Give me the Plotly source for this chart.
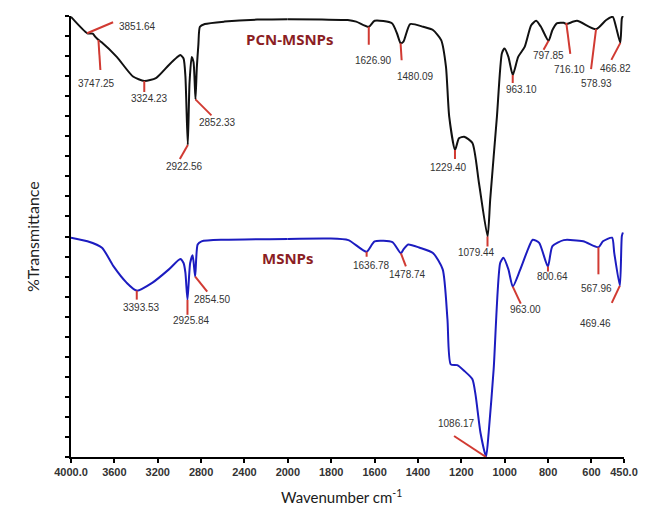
import plotly.graph_objects as go

# ---------------- data ----------------
pcn_wn = [4000, 3849, 3800, 3775, 3745, 3720, 3578, 3428, 3324, 3217, 3097, 3022, 2992, 2962, 2945,
          2923, 2907, 2887, 2870, 2852, 2840, 2825, 2811, 2766, 2585, 2284, 2000, 1843, 1724, 1685,
          1627, 1600, 1520, 1497, 1480, 1467, 1436, 1376, 1331, 1293, 1271, 1256, 1229, 1211, 1187,
          1149, 1119, 1079, 1067, 1036, 1013, 1001, 983, 963, 938, 908, 878, 855, 833, 798, 780, 758,
          728, 716, 667, 579, 532, 502, 487, 467, 460, 455]
pcn_t = [109.8, 105.7, 105.6, 104.8, 104.0, 103.5, 99.8, 94.9, 93.8, 94.5, 97.8, 99.7, 100.3, 99.4, 95.0,
         77.8, 93.3, 99.8, 98.5, 89.2, 97.0, 103.0, 107.3, 108.0, 108.6, 109.1, 109.2, 109.1, 109.0, 108.6,
         107.3, 108.8, 108.2, 105.7, 103.2, 103.6, 108.0, 107.3, 106.5, 104.0, 97.4, 84.9, 76.6, 79.5, 79.9,
         78.3, 68.4, 55.0, 64.2, 84.9, 100.7, 101.9, 99.8, 95.3, 99.8, 102.3, 107.7, 108.8, 107.3, 103.8, 106.5, 108.2,
         108.3, 108.0, 108.8, 106.7, 109.0, 109.8, 107.3, 103.3, 109.4, 110.0]

msn_wn = [4000, 3849, 3714, 3609, 3488, 3394, 3248, 3097, 2992, 2962, 2945, 2926, 2901, 2878, 2855,
          2832, 2796, 2585, 2000, 1811, 1721, 1637, 1600, 1518, 1479, 1467, 1445, 1392, 1331, 1286,
          1264, 1249, 1219, 1187, 1149, 1134, 1112, 1086, 1074, 1051, 1021, 1006, 983, 963, 931, 893,
          871, 841, 801, 780, 728, 638, 568, 547, 505, 495, 469, 460, 455]
msn_t = [54.7, 53.8, 52.2, 47.6, 43.5, 41.5, 43.5, 46.8, 49.4, 48.4, 46.0, 39.2, 48.4, 50.3, 45.0,
         53.0, 53.8, 54.2, 54.4, 54.5, 54.1, 51.2, 53.8, 53.6, 50.8, 51.8, 53.0, 52.2, 50.9, 46.8,
         34.3, 23.1, 22.9, 21.5, 19.4, 15.3, 6.1, 0.1, 6.1, 21.9, 48.4, 49.7, 46.8, 42.5, 46.4, 51.8,
         54.2, 53.4, 47.5, 52.6, 54.1, 53.8, 52.3, 53.8, 54.7, 50.9, 42.7, 55.1, 56.0]

# peak labels (black spectrum)
pcn_peak_labels = ["3851.64", "3747.25", "3324.23", "2922.56", "2852.33", "1626.90", "1480.09",
                   "1229.40", "1079.44", "963.10", "797.85", "716.10", "578.93", "466.82"]
pcn_peak_t = [105.7, 104.0, 93.8, 77.8, 89.2, 107.3, 103.2, 76.6, 55.0, 95.3, 103.8, 108.3, 106.7, 103.3]

# peak labels (blue spectrum)
msn_peak_labels = ["3393.53", "2925.84", "2854.50", "1636.78", "1478.74", "1086.17", "963.00",
                   "800.64", "567.96", "469.46"]
msn_peak_t = [41.5, 39.2, 45.0, 51.2, 50.8, 0.0, 42.5, 47.5, 52.3, 42.7]

x_ticks_hi = [4000, 3600, 3200, 2800, 2400]
x_ticks_hi_text = ["4000.0", "3600", "3200", "2800", "2400"]
x_ticks_lo = [2000, 1800, 1600, 1400, 1200, 1000, 800, 600, 450]
x_ticks_lo_text = ["2000", "1800", "1600", "1400", "1200", "1000", "800", "600", "450.0"]

# ---------------- styling (pixel offsets for leader lines and label text) ----------------
# (line end dx, dy, text dx, dy) in screen pixels, dy positive downwards
pcn_offsets = [(26, -11, 50, -7), (2, 30, -2, 43), (0, 11, 5, 18), (-8, 14, -3, 21), (16, 16, 22, 23),
               (0, 18, 5, 34), (1, 17, 15, 33), (0, 9, -6, 18), (0, 10, -11, 16), (0, 8, 9, 15),
               (-5, 9, 0, 15), (4, 31, 3, 47), (-5, 40, 0, 54), (-9, 17, -5, 26)]
msn_offsets = [(0, 9, 5, 17), (0, 15, 4, 21), (12, 15, 17, 23), (0, 5, 5, 14), (5, 13, 7, 21),
               (-32, -21, -30, -34), (8, 17, 13, 23), (0, 5, 5, 10), (0, 27, -2, 41), (-8, 17, -24, 38)]

SPLIT = 220 / 561
RED = "#d13a32"
LABEL_FONT = dict(family="Liberation Sans, Arial, sans-serif", size=10, color="#333333")

fig = go.Figure()


def add_spectrum(wn, t, color):
    hi = [(w, v) for w, v in zip(wn, t) if w >= 2000]
    lo = [(w, v) for w, v in zip(wn, t) if w <= 2000]
    for pts, xa in ((hi, "x"), (lo, "x2")):
        fig.add_trace(go.Scatter(
            x=[p[0] for p in pts], y=[p[1] for p in pts], xaxis=xa, yaxis="y",
            mode="lines", line=dict(color=color, width=2, shape="spline", smoothing=0.6),
            showlegend=False, hoverinfo="skip"))


add_spectrum(pcn_wn, pcn_t, "#111111")
add_spectrum(msn_wn, msn_t, "#1c1cc0")


def add_labels(labels, ts, offsets):
    for lab, tv, (ldx, ldy, tdx, tdy) in zip(labels, ts, offsets):
        w = float(lab)
        xr = "x" if w > 2000 else "x2"
        fig.add_shape(type="line", xref=xr, yref="y", xsizemode="pixel", ysizemode="pixel",
                      xanchor=w, yanchor=tv, x0=0, y0=0, x1=ldx, y1=-ldy,
                      line=dict(color=RED, width=2))
        fig.add_annotation(x=w, y=tv, xref=xr, yref="y", text=lab, showarrow=False,
                           xshift=tdx, yshift=-tdy, xanchor="center", yanchor="middle",
                           font=LABEL_FONT)


add_labels(pcn_peak_labels, pcn_peak_t, pcn_offsets)
add_labels(msn_peak_labels, msn_peak_t, msn_offsets)

SERIES_FONT = dict(family="Open Sans, sans-serif", size=15, color="#8b1e24")
fig.add_annotation(x=0.396, y=104.2, xref="paper", yref="y", text="<b>PCN-MSNPs</b>",
                   showarrow=False, font=SERIES_FONT)
fig.add_annotation(x=0.391, y=49.6, xref="paper", yref="y", text="<b>MSNPs</b>",
                   showarrow=False, font=SERIES_FONT)

fig.add_annotation(x=-0.0904, y=0.5, xref="paper", yref="paper", text="%Transmittance",
                   textangle=-90, showarrow=False,
                   font=dict(family="Lato, sans-serif", size=16, color="#222222"))
fig.add_annotation(x=0.489, y=-0.09, xref="paper", yref="paper", text="Wavenumber cm<sup>-1</sup>",
                   showarrow=False, yanchor="middle",
                   font=dict(family="Lato, sans-serif", size=15, color="#1a1a1a"))

TICK_FONT = dict(family="Liberation Sans, Arial, sans-serif", size=11, color="#333333", weight="bold")
axis_common = dict(showline=True, linecolor="black", linewidth=2, showgrid=False, zeroline=False,
                   ticks="outside", ticklen=4, tickwidth=1.5, tickcolor="black", tickfont=TICK_FONT)

fig.update_layout(
    width=650, height=506,
    margin=dict(l=71, r=18, t=16, b=49),
    paper_bgcolor="white", plot_bgcolor="white",
    xaxis=dict(domain=[0, SPLIT], range=[4000, 2000], tickvals=x_ticks_hi, ticktext=x_ticks_hi_text,
               anchor="y", **axis_common),
    xaxis2=dict(domain=[SPLIT, 1], range=[2000, 450], tickvals=x_ticks_lo, ticktext=x_ticks_lo_text,
                anchor="y", **axis_common),
    yaxis=dict(range=[0, 110], tickvals=list(range(0, 111, 5)), showticklabels=False, **axis_common),
)

fig.write_html("out.html", config={"displayModeBar": False},
               post_script="document.body.style.margin='0';document.body.style.padding='0';"
                           "document.documentElement.style.overflow='hidden';")
